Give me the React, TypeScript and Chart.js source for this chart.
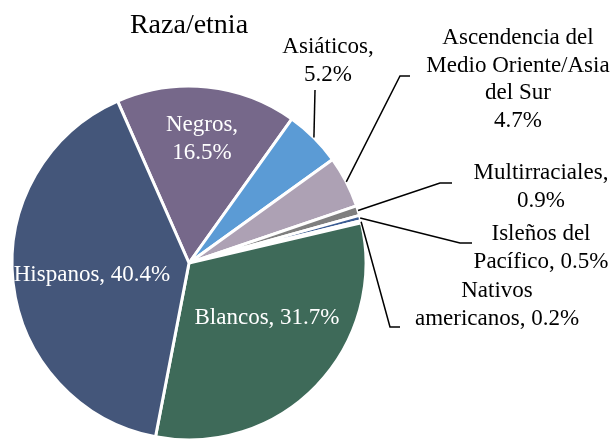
import React, { useEffect, useRef } from "react";
import { Chart, registerables } from "chart.js";

Chart.register(...registerables);

const TITLE = "Raza/etnia";
const categories = [
  "Negros",
  "Asiáticos",
  "Ascendencia del Medio Oriente/Asia del Sur",
  "Multirraciales",
  "Isleños del Pacífico",
  "Nativos americanos",
  "Blancos",
  "Hispanos",
];
const values = [16.5, 5.2, 4.7, 0.9, 0.5, 0.2, 31.7, 40.4];
const labelLines = [
  ["Negros,", "16.5%"],
  ["Asiáticos,", "5.2%"],
  ["Ascendencia del", "Medio Oriente/Asia", "del Sur", "4.7%"],
  ["Multirraciales,", "0.9%"],
  ["Isleños del", "Pacífico, 0.5%"],
  ["Nativos", "americanos, 0.2%"],
  ["Blancos, 31.7%"],
  ["Hispanos, 40.4%"],
];
const colors = [
  "#76688A",
  "#5B9BD5",
  "#ADA1B4",
  "#7F7F7F",
  "#3B5C93",
  "#FFFFFF",
  "#3E6A59",
  "#44567A",
];

// layout: label anchor (center x, first baseline y), inside?, leader elbow points
const labelLayout = [
  { x: 202, y: 131, inside: true, elbow: null as null | number[][] },
  { x: 328, y: 53, inside: false, elbow: [[315, 90]] },
  { x: 518, y: 44, inside: false, elbow: [[400, 76], [410, 76]] },
  { x: 541, y: 179, inside: false, elbow: [[440, 183], [452, 183]] },
  { x: 541, y: 240, inside: false, elbow: [[460, 243], [472, 243]] },
  { x: 497, y: 297, inside: false, elbow: [[390, 327], [400, 327]] },
  { x: 267, y: 324, inside: true, elbow: null },
  { x: 92, y: 281, inside: true, elbow: null },
];

const FONT = "'Liberation Serif', 'Times New Roman', serif";

const labelPlugin = {
  id: "customLabels",
  afterDraw(chart: any) {
    const ctx = chart.ctx;
    const meta = chart.getDatasetMeta(0);
    ctx.save();
    ctx.textAlign = "center";
    ctx.textBaseline = "alphabetic";
    // title
    ctx.fillStyle = "#000";
    ctx.font = `28px ${FONT}`;
    ctx.fillText(TITLE, 189, 33);
    ctx.font = `23px ${FONT}`;
    meta.data.forEach((arc: any, i: number) => {
      const lay = labelLayout[i];
      const lines = labelLines[i];
      ctx.fillStyle = lay.inside ? "#FFFFFF" : "#000000";
      lines.forEach((t, k) => ctx.fillText(t, lay.x, lay.y + k * 27.5));
      if (lay.elbow) {
        const p = arc.getProps(["x", "y", "startAngle", "endAngle", "outerRadius"], true);
        const mid = (p.startAngle + p.endAngle) / 2;
        const sx = p.x + Math.cos(mid) * p.outerRadius;
        const sy = p.y + Math.sin(mid) * p.outerRadius;
        ctx.strokeStyle = "#000";
        ctx.lineWidth = 1.5;
        ctx.beginPath();
        ctx.moveTo(sx, sy);
        lay.elbow.forEach((pt) => ctx.lineTo(pt[0], pt[1]));
        ctx.stroke();
      }
    });
    ctx.restore();
  },
};

export default function App() {
  const ref = useRef<HTMLCanvasElement>(null);
  useEffect(() => {
    document.body.style.overflow = "hidden";
    const chart = new Chart(ref.current!, {
      type: "pie",
      data: {
        labels: categories,
        datasets: [
          {
            data: values,
            backgroundColor: colors,
            borderColor: "#FFFFFF",
            borderWidth: 3,
          },
        ],
      },
      options: {
        animation: false,
        responsive: false,
        rotation: -23.8,
        layout: { padding: { left: 10.5, top: 84.5, right: 248.5, bottom: 0.5 } },
        plugins: {
          legend: { display: false },
          tooltip: { enabled: false },
          title: { display: false },
        },
      },
      plugins: [labelPlugin],
    });
    return () => chart.destroy();
  }, []);
  return (
    <div style={{ position: "fixed", left: 0, top: 0, width: 616, height: 442, background: "#fff" }}>
      <canvas ref={ref} width={616} height={442} style={{ width: 616, height: 442, display: "block" }} />
    </div>
  );
}
